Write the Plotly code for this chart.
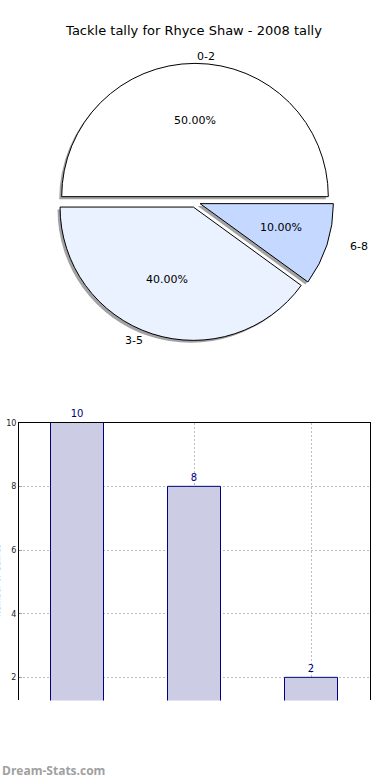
import math
import plotly.graph_objects as go

# ---- data ----
categories = ["0-2", "3-5", "6-8"]
counts = [10, 8, 2]
pie_colors = ["#ffffff", "#eaf1ff", "#c5d8ff"]
pull = [0.04, 0.04, 0.04]
title_text = "Tackle tally for Rhyce Shaw - 2008 tally"
y_label = "Number of Games"
y_ticks = [2, 4, 6, 8, 10]

W, H = 390, 780

def px_x(x):
    return x / W

def px_y(y):
    return 1 - y / H

# pie geometry (pixels)
cx, cy, r = 195, 199, 134
rx, ry = 141, 128          # text placement radii
half = r * (1 + max(pull))
dom_x = [px_x(cx - half), px_x(cx + half)]
dom_y = [px_y(cy + half), px_y(cy - half)]
sh = 2.5
dom_x_sh = [px_x(cx - half - sh), px_x(cx + half - sh)]
dom_y_sh = [px_y(cy + half + sh), px_y(cy - half + sh)]

fig = go.Figure()

# shadow
fig.add_trace(go.Pie(
    labels=categories, values=counts, sort=False, direction="counterclockwise",
    rotation=270, pull=pull, domain=dict(x=dom_x_sh, y=dom_y_sh),
    marker=dict(colors=["rgba(100,100,100,0.6)"] * 3, line=dict(width=0)),
    textinfo="none", hoverinfo="skip", showlegend=False,
))
# main pie
fig.add_trace(go.Pie(
    labels=categories, values=counts, sort=False, direction="counterclockwise",
    rotation=270, pull=pull, domain=dict(x=dom_x, y=dom_y),
    marker=dict(colors=pie_colors, line=dict(color="#000000", width=1)),
    textinfo="none", hoverinfo="label+percent", showlegend=False,
))

# pie texts (percent at 0.6 r, labels at 1.1 r from the exploded centre)
total = sum(counts)
start = 0.0
for lab, v, p in zip(categories, counts, pull):
    frac = v / total
    mid = math.radians(start + 180.0 * frac)
    start += 360.0 * frac
    ox = cx + p * rx * math.cos(mid)
    oy = cy - p * ry * math.sin(mid)
    fig.add_annotation(
        text=f"{frac * 100:.2f}%", xref="paper", yref="paper",
        x=px_x(ox + 0.6 * rx * math.cos(mid)), y=px_y(oy - 0.6 * ry * math.sin(mid)),
        xanchor="center", yanchor="middle", showarrow=False,
        font=dict(family="DejaVu Sans", size=11, color="#000000"),
    )
    lx = 1.1 * rx * math.cos(mid)
    fig.add_annotation(
        text=lab, xref="paper", yref="paper",
        x=px_x(ox + lx), y=px_y(oy - 1.1 * ry * math.sin(mid)),
        xanchor="left" if lx > -1e-9 else "right",
        yanchor="middle", showarrow=False,
        font=dict(family="DejaVu Sans", size=11, color="#000000"),
    )

# bars
fig.add_trace(go.Bar(
    x=list(range(len(categories))), y=counts, width=0.45,
    marker=dict(color="#ccccE4", line=dict(color="#000080", width=1)),
    text=[str(v) for v in counts], textposition="outside",
    textfont=dict(family="DejaVu Sans", size=10, color="#000080"),
    cliponaxis=False, showlegend=False, hoverinfo="x+y",
))

grid_dash = "2px,2px"
grid_col = "#bdbdbd"
fig.update_layout(
    width=W, height=H,
    margin=dict(l=0, r=0, t=0, b=0),
    paper_bgcolor="white", plot_bgcolor="white",
    showlegend=False,
    title=dict(text=title_text, x=px_x(194), xanchor="center",
               y=px_y(30), yanchor="middle",
               font=dict(family="DejaVu Sans", size=13, color="#000000")),
    xaxis=dict(domain=[px_x(19), px_x(370)], range=[-0.5, 2.5],
               side="top", showline=True, linecolor="#000000", linewidth=1,
               tickvals=list(range(len(categories))), showticklabels=False,
               ticks="", showgrid=True, gridcolor=grid_col, griddash=grid_dash,
               gridwidth=1, zeroline=False, fixedrange=True),
    yaxis=dict(domain=[px_y(700), px_y(421)], range=[2 - 23 / 32, 10],
               showline=True, mirror=True, linecolor="#000000", linewidth=1,
               tickvals=y_ticks, ticktext=[str(v) for v in y_ticks],
               ticks="inside", ticklen=3, tickcolor="#999999",
               tickfont=dict(family="DejaVu Sans", size=8, color="#222222"),
               showgrid=True, gridcolor=grid_col, griddash=grid_dash,
               gridwidth=1, zeroline=False, fixedrange=True),
    bargap=0,
)

fig.add_annotation(
    text="Dream-Stats.com", xref="paper", yref="paper",
    x=0, xanchor="left", y=px_y(770), yanchor="middle", showarrow=False,
    font=dict(family="Open Sans", size=12, color="#a0a0a0", weight="bold"),
)
fig.add_annotation(
    text=y_label, xref="paper", yref="paper", textangle=-90,
    x=px_x(3.5), xanchor="right", y=px_y(580), yanchor="middle", showarrow=False,
    font=dict(family="DejaVu Sans", size=8, color="#222222"),
)

fig.write_html("out.html", post_script=["document.body.style.margin='0';"],
               config={"displayModeBar": False})
